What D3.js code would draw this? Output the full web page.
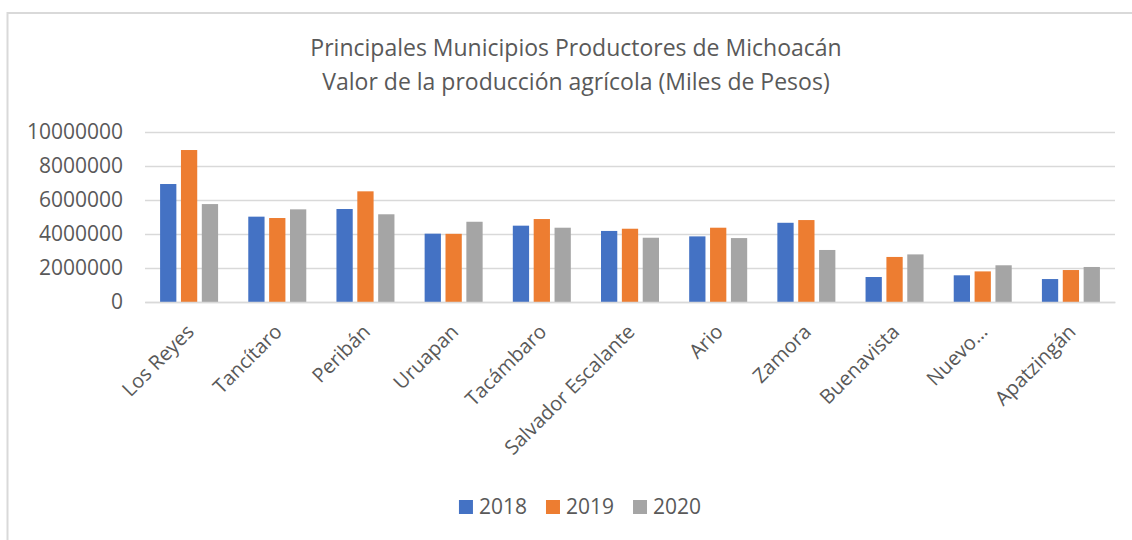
<!DOCTYPE html>
<html>
<head>
<meta charset="utf-8">
<script src="https://cdn.jsdelivr.net/npm/d3@7"></script>
<style>
  body { margin: 0; background: #fff; }
  text { font-family: "Open Sans", sans-serif; fill: #595959; }
</style>
</head>
<body>
<div id="chart_div"></div>
<script>
const municipios = ["Los Reyes", "Tancítaro", "Peribán", "Uruapan", "Tacámbaro",
  "Salvador Escalante", "Ario", "Zamora", "Buenavista", "Nuevo…", "Apatzingán"];
const years = ["2018", "2019", "2020"];
const valores2018 = [6940000, 5020000, 5470000, 4020000, 4490000, 4180000, 3860000, 4660000, 1470000, 1570000, 1350000];
const valores2019 = [8940000, 4940000, 6510000, 4010000, 4880000, 4310000, 4370000, 4820000, 2650000, 1800000, 1880000];
const valores2020 = [5760000, 5450000, 5160000, 4720000, 4370000, 3780000, 3760000, 3060000, 2800000, 2160000, 2060000];
const yTicks = [0, 2000000, 4000000, 6000000, 8000000, 10000000];
const titleLines = ["Principales Municipios Productores de Michoacán",
  "Valor de la producción agrícola (Miles de Pesos)"];
const colors = ["#4472C4", "#ED7D31", "#A5A5A5"];

const width = 1132, height = 540;
const plot = {left: 145, right: 1115, top: 132, bottom: 302};

const series = [valores2018, valores2019, valores2020];

const svg = d3.select("#chart_div")
  .append("svg")
  .attr("width", width)
  .attr("height", height);

// chart frame (only top and left edges visible)
svg.append("path")
  .attr("d", "M7.5," + height + "V13H" + width)
  .attr("fill", "none")
  .attr("stroke", "#d9d9d9")
  .attr("stroke-width", 2);

// title
svg.append("g")
  .selectAll("text")
  .data(titleLines)
  .join("text")
  .attr("x", 576)
  .attr("y", (d, i) => 56 + i * 34)
  .attr("text-anchor", "middle")
  .attr("font-size", 23)
  .text(d => d);

let xScale = d3.scaleBand()
  .domain(municipios)
  .range([plot.left, plot.right]);

let xInner = d3.scaleBand()
  .domain(years)
  .range([0, 58])
  .paddingInner(0.22);

let yScale = d3.scaleLinear()
  .domain([0, 10000000])
  .range([plot.bottom, plot.top]);

// gridlines + y labels
let yAxis = svg.append("g")
  .attr("transform", "translate(" + plot.left + ",0)")
  .call(d3.axisLeft(yScale)
    .tickValues(yTicks)
    .tickFormat(d3.format("d"))
    .tickSize(-(plot.right - plot.left))
    .tickPadding(22));
yAxis.select(".domain").remove();
yAxis.selectAll(".tick line").attr("stroke", "#d9d9d9").attr("stroke-width", 1.5);
yAxis.selectAll(".tick text")
  .attr("font-size", 21)
  .attr("fill", "#595959")
  .attr("font-family", "Open Sans, sans-serif");

// bars
svg.append("g")
  .selectAll("g")
  .data(municipios)
  .join("g")
  .attr("transform", d => "translate(" + (xScale(d) + xScale.bandwidth() / 2 - 29) + ",0)")
  .selectAll("rect")
  .data((d, i) => years.map((y, j) => ({year: y, value: series[j][i], k: j})))
  .join("rect")
  .attr("x", d => xInner(d.year))
  .attr("y", d => yScale(d.value))
  .attr("width", xInner.bandwidth())
  .attr("height", d => yScale(0) - yScale(d.value))
  .attr("fill", d => colors[d.k]);

// x axis line + labels
let xAxis = svg.append("g")
  .attr("transform", "translate(0," + plot.bottom + ")")
  .call(d3.axisBottom(xScale).tickSize(0).tickPadding(0));
xAxis.select(".domain").attr("stroke", "#d9d9d9").attr("stroke-width", 1.5);
xAxis.selectAll(".tick text")
  .attr("font-size", 20)
  .attr("fill", "#595959")
  .attr("font-family", "Open Sans, sans-serif")
  .attr("text-anchor", "end")
  .attr("y", 0)
  .attr("dy", "0.71em")
  .attr("transform", "translate(-4,21) rotate(-45)");

// legend
let legend = svg.append("g");
let items = legend.selectAll("g")
  .data(years)
  .join("g");
items.append("rect")
  .attr("width", 14)
  .attr("height", 14)
  .attr("y", 500)
  .attr("fill", (d, i) => colors[i]);
items.append("text")
  .attr("x", 20)
  .attr("y", 514)
  .attr("font-size", 21)
  .text(d => d);
let lx = 0;
items.each(function() {
  d3.select(this).attr("transform", "translate(" + lx + ",0)");
  lx += this.getBBox().width + 19;
});
lx -= 19;
legend.attr("transform", "translate(" + (580 - lx / 2) + ",0)");
</script>
</body>
</html>
